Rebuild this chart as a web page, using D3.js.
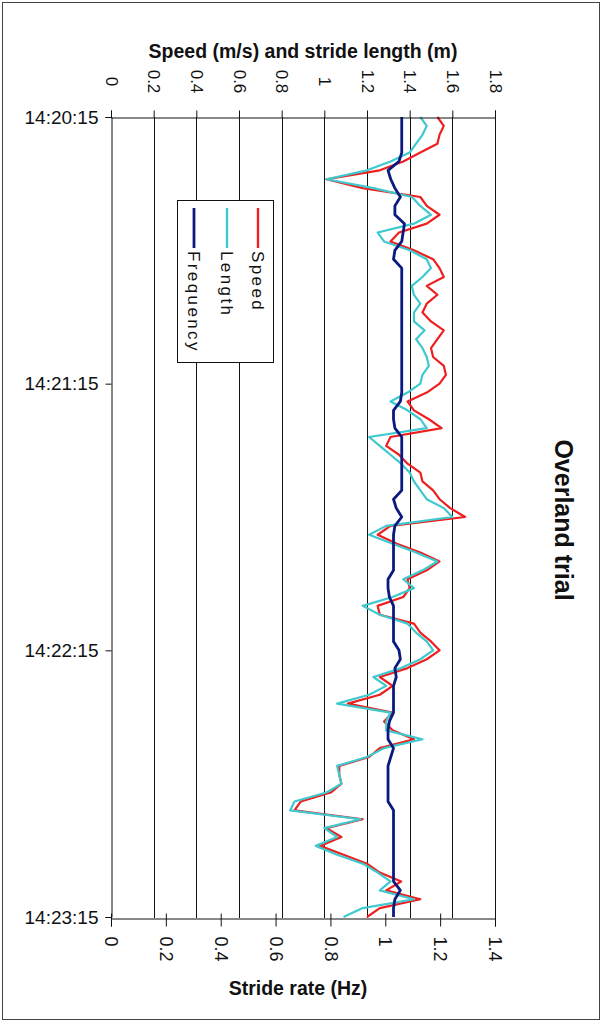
<!DOCTYPE html>
<html>
<head>
<meta charset="utf-8">
<script src="https://cdn.jsdelivr.net/npm/d3@7"></script>
<style>
  body { margin: 0; background: #fff; }
  svg text { font-family: "Liberation Sans", Arial, sans-serif; fill: #111; }
</style>
</head>
<body>
<div id="viz"></div>
<script>

// values, one sample every 2 s from 14:20:15
var sampleStep = 2;
var speed = [
  1.53,1.56,1.54,1.53,1.45,1.37,1.26,1.01,1.18,1.45,1.48,1.54,1.48,1.35,1.31,1.42,1.51,1.54,1.56,1.48,1.53,1.48,1.46,
  1.50,1.56,1.53,1.50,1.51,1.56,1.57,1.54,1.48,1.39,1.42,1.49,1.55,1.31,1.29,1.35,1.39,1.45,1.46,1.51,1.54,1.59,
  1.66,1.31,1.25,1.34,1.45,1.54,1.48,1.39,1.40,1.37,1.25,1.26,1.42,1.45,1.50,1.54,1.48,1.39,1.26,1.32,1.26,1.11,1.32,
  1.28,1.32,1.42,1.26,1.21,1.07,1.07,1.08,1.03,0.89,0.86,1.18,1.01,1.08,0.98,1.09,1.20,1.26,1.36,1.29,1.45,1.26,1.20
];
var strideLength = [
  1.45,1.48,1.46,1.43,1.40,1.31,1.20,1.01,1.23,1.41,1.45,1.50,1.42,1.25,1.28,1.40,1.48,1.50,1.46,1.41,1.42,1.45,1.42,
  1.42,1.47,1.43,1.46,1.48,1.49,1.46,1.45,1.39,1.31,1.39,1.45,1.48,1.21,1.26,1.31,1.36,1.40,1.42,1.45,1.48,1.56,
  1.60,1.29,1.21,1.32,1.43,1.53,1.46,1.37,1.42,1.32,1.18,1.26,1.39,1.43,1.48,1.51,1.45,1.36,1.23,1.29,1.21,1.06,1.31,
  1.29,1.29,1.46,1.28,1.20,1.06,1.07,1.08,1.01,0.86,0.84,1.17,1.00,1.06,0.96,1.06,1.18,1.25,1.31,1.26,1.42,1.18,1.09
];
var frequency = [
  1.06,1.06,1.06,1.06,1.06,1.05,1.01,1.02,1.035,1.055,1.035,1.035,1.07,1.065,1.06,1.035,1.03,1.06,1.06,1.06,1.06,1.06,1.06,
  1.06,1.06,1.06,1.06,1.06,1.06,1.06,1.06,1.06,1.055,1.03,1.03,1.035,1.06,1.06,1.06,1.06,1.06,1.06,1.06,1.03,1.04,
  1.06,1.035,1.03,1.03,1.03,1.03,1.03,1.01,1.01,1.015,1.03,1.03,1.03,1.03,1.03,1.05,1.055,1.035,1.04,1.03,1.03,1.03,1.03,
  1.015,1.01,1.01,1.03,1.02,1.01,1.01,1.01,1.01,1.01,1.03,1.03,1.03,1.03,1.03,1.03,1.03,1.03,1.03,1.055,1.035,1.03,1.03
];

var topTicks = [0, 0.2, 0.4, 0.6, 0.8, 1, 1.2, 1.4, 1.6, 1.8];
var bottomTicks = [0, 0.2, 0.4, 0.6, 0.8, 1, 1.2, 1.4];
var timeLabels = ["14:20:15", "14:21:15", "14:22:15", "14:23:15"];
var legendNames = ["Speed", "Length", "Frequency"];
var colors = ["#ee1f1f", "#3ec9cf", "#0a1a80"];

// layout (chart is turned on its side: time runs down)
var W = 608, H = 1023;
var plotL = 111, plotR = 495, plotT = 117, plotB = 917;

var svg = d3.select("#viz").append("svg")
  .attr("width", W).attr("height", H);

// outer frame
svg.append("rect")
  .attr("x", 2.5).attr("y", 2.5).attr("width", 597).attr("height", 1017)
  .attr("fill", "none").attr("stroke", "#444").attr("stroke-width", 1);

var parse = d3.timeParse("%H:%M:%S");
var t0 = parse(timeLabels[0]);
var t1 = parse(timeLabels[timeLabels.length - 1]);

var y = d3.scaleTime().domain([t0, t1]).range([plotT, plotB]);
var xTop = d3.scaleLinear().domain([0, 1.8]).range([plotL, plotR]);
var xBot = d3.scaleLinear().domain([0, 1.4]).range([plotL, plotR]);

function timeAt(i) { return d3.timeSecond.offset(t0, i * sampleStep); }

// vertical grid lines from the speed axis
svg.append("g").selectAll("line")
  .data(topTicks.slice(1))
  .join("line")
  .attr("x1", d => Math.round(xTop(d)) + 0.5)
  .attr("x2", d => Math.round(xTop(d)) + 0.5)
  .attr("y1", plotT).attr("y2", plotB + 1)
  .attr("stroke", "#111").attr("stroke-width", 1);

// series
var series = [
  { vals: speed, x: xTop, w: 2.2 },
  { vals: strideLength, x: xTop, w: 2.2 },
  { vals: frequency, x: xBot, w: 2.8 }
];
series.forEach(function (s, k) {
  var line = d3.line()
    .x(d => s.x(d))
    .y((d, i) => y(timeAt(i)));
  svg.append("path")
    .datum(s.vals)
    .attr("d", line)
    .attr("fill", "none")
    .attr("stroke", colors[k])
    .attr("stroke-width", s.w)
    .attr("stroke-linejoin", "round");
});

// top axis: speed and stride length
var gTop = svg.append("g")
  .attr("transform", "translate(0," + (plotT + 0.5) + ")")
  .call(d3.axisTop(xTop).tickValues(topTicks).tickSize(7).tickFormat(d3.format("")));
gTop.selectAll("text")
  .attr("y", 0).attr("dy", "0.35em")
  .attr("transform", "translate(0,-36) rotate(90)")
  .style("text-anchor", "middle")
  .style("font-size", "17px");

// bottom axis: stride rate
var gBot = svg.append("g")
  .attr("transform", "translate(0," + (plotB + 1.5) + ")")
  .call(d3.axisBottom(xBot).tickValues(bottomTicks).tickSize(8).tickFormat(d3.format("")));
gBot.selectAll(".tick line").attr("y1", -5);
gBot.selectAll("text")
  .attr("y", 0).attr("dy", "0.35em")
  .attr("transform", "translate(0,18) rotate(90)")
  .style("text-anchor", "start")
  .style("font-size", "18px");

// left axis: clock time
var gLeft = svg.append("g")
  .attr("transform", "translate(" + (plotL + 0.5) + ",0)")
  .call(d3.axisLeft(y)
    .tickValues(timeLabels.map(parse))
    .tickSize(6)
    .tickFormat(d3.timeFormat("%H:%M:%S")));
gLeft.selectAll("text").attr("x", -13).style("font-size", "19px");

[gTop, gBot, gLeft].forEach(function (g) {
  g.selectAll("path, line").attr("stroke", "#111");
  g.attr("font-family", null).attr("font-size", null);
});

// axis titles
svg.append("text")
  .attr("x", 303).attr("y", 58)
  .attr("text-anchor", "middle")
  .style("font-size", "19.5px").style("font-weight", "bold")
  .text("Speed (m/s) and stride length (m)");

svg.append("text")
  .attr("x", 298).attr("y", 995)
  .attr("text-anchor", "middle")
  .style("font-size", "19.5px").style("font-weight", "bold")
  .text("Stride rate (Hz)");

svg.append("text")
  .attr("transform", "translate(564,520) rotate(90)")
  .attr("text-anchor", "middle").attr("dy", "0.35em")
  .style("font-size", "25px").style("font-weight", "bold")
  .text("Overland trial");

// legend
var lg = svg.append("g");
lg.append("rect")
  .attr("x", 177.5).attr("y", 200.5).attr("width", 96).attr("height", 162)
  .attr("fill", "#fff").attr("stroke", "#111");
var legX = [258, 227, 194];
legendNames.forEach(function (name, k) {
  lg.append("line")
    .attr("x1", legX[k]).attr("x2", legX[k])
    .attr("y1", 208).attr("y2", 248)
    .attr("stroke", colors[k]).attr("stroke-width", k === 2 ? 2.8 : 2.4);
  lg.append("text")
    .attr("transform", "translate(" + legX[k] + ",251) rotate(90)")
    .attr("dy", "0.35em")
    .style("font-size", "17px").style("letter-spacing", "2.4px")
    .text(name);
});

</script>
</body>
</html>
